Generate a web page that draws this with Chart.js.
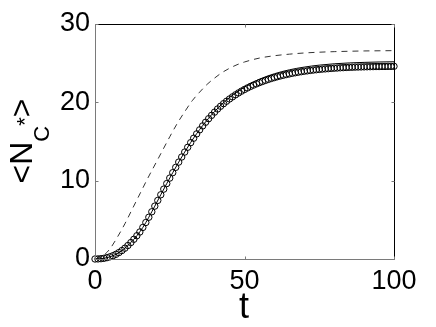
<!DOCTYPE html>
<html>
<head>
<meta charset="utf-8">
<script src="https://cdn.jsdelivr.net/npm/chart.js@4.4.1/dist/chart.umd.min.js"></script>
<style>
  html, body { margin: 0; padding: 0; background: #fff; }
  #chart { display: block; }
</style>
</head>
<body>
<canvas id="chart" width="436" height="327"></canvas>
<script>
// tick labels
const xTicks = [0, 50, 100];
const yTicks = [0, 10, 20, 30];

// circles, one per time unit t = 0..100
const nMarks = [
    0, 0.01, 0.04, 0.09, 0.17, 0.28, 0.42, 0.6, 0.82, 1.08,
    1.38, 1.72, 2.1, 2.52, 2.97, 3.45, 4.03, 4.66, 5.33, 6.03,
    6.75, 7.48, 8.2, 8.92, 9.63, 10.33, 11.02, 11.7, 12.37, 13.02,
    13.65, 14.26, 14.85, 15.42, 15.97, 16.49, 16.99, 17.46, 17.91, 18.34,
    18.75, 19.15, 19.5, 19.83, 20.14, 20.43, 20.7, 20.96, 21.2, 21.43,
    21.64, 21.84, 22.03, 22.2, 22.36, 22.52, 22.66, 22.8, 22.93, 23.05,
    23.16, 23.27, 23.37, 23.46, 23.55, 23.63, 23.71, 23.78, 23.85, 23.91,
    23.97, 24.02, 24.07, 24.12, 24.16, 24.2, 24.24, 24.27, 24.3, 24.33,
    24.36, 24.38, 24.41, 24.43, 24.45, 24.47, 24.48, 24.5, 24.51, 24.52,
    24.53, 24.54, 24.55, 24.56, 24.57, 24.57, 24.58, 24.58, 24.59, 24.59,
    24.6
];

// solid curve
const tSolid = [0, 2, 4, 6, 8, 10, 12, 14, 16, 18, 20, 22, 24, 26, 28, 30, 32, 34, 36, 38,
    40, 45, 50, 55, 60, 65, 70, 75, 80, 85, 90, 95, 100];
const nSolid = [0, 0.04, 0.17, 0.42, 0.82, 1.38, 2.1, 2.97, 4.03, 5.33, 6.75, 8.2, 9.63, 11.02, 12.37, 13.65, 14.87, 16.0, 17.03, 17.97,
    18.83, 20.62, 21.95, 22.95, 23.65, 24.15, 24.5, 24.75, 24.92, 25.03, 25.1, 25.15, 25.18];

// dashed curve
const tDashed = [0, 2.5, 5, 7.5, 10, 12.5, 15, 17.5, 20, 22.5, 25, 27.5, 30, 32.5, 35, 37.5, 40, 42.5, 45, 47.5,
    50, 55, 60, 65, 70, 75, 80, 85, 90, 95, 100];
const nDashed = [0, 0.35, 1.3, 2.8, 4.5, 6.4, 8.3, 10.2, 12.0, 13.8, 15.6, 17.3, 18.8, 20.2, 21.3, 22.3, 23.1, 23.8, 24.35, 24.8,
    25.15, 25.65, 25.95, 26.15, 26.3, 26.4, 26.47, 26.52, 26.56, 26.58, 26.6];

const FONT = "'Liberation Sans', Arial, Helvetica, sans-serif";

const pairs = (xs, ys) => ys.map((y, i) => ({ x: xs[i], y: y }));

// box, inward ticks and axis titles in MATLAB style
const frame = {
    id: "frame",
    afterDraw(chart) {
        const ctx = chart.ctx;
        const a = chart.chartArea;
        const sx = chart.scales.x;
        const sy = chart.scales.y;
        const L = Math.round(a.left) + 0.5;
        const R = Math.round(a.right) + 0.5;
        const T = Math.round(a.top) + 0.5;
        const B = Math.round(a.bottom) + 0.5;

        ctx.save();
        ctx.lineWidth = 1;

        ctx.strokeStyle = "#000";
        ctx.beginPath();
        ctx.moveTo(L, T); ctx.lineTo(R, T); ctx.lineTo(R, B);
        ctx.stroke();

        ctx.strokeStyle = "#7a7a7a";
        ctx.beginPath();
        ctx.moveTo(L, T); ctx.lineTo(L, B); ctx.lineTo(R, B);
        ctx.stroke();

        ctx.beginPath();
        xTicks.forEach(v => {
            const px = Math.round(sx.getPixelForValue(v)) + 0.5;
            ctx.moveTo(px, B); ctx.lineTo(px, B - 3);
            ctx.moveTo(px, T); ctx.lineTo(px, T + 3);
        });
        yTicks.forEach(v => {
            const py = Math.round(sy.getPixelForValue(v)) + 0.5;
            ctx.moveTo(L, py); ctx.lineTo(L + 3, py);
            ctx.moveTo(R, py); ctx.lineTo(R - 3, py);
        });
        ctx.stroke();

        ctx.fillStyle = "#000";

        // x title
        ctx.font = "36px " + FONT;
        ctx.textAlign = "center";
        ctx.textBaseline = "alphabetic";
        ctx.fillText("t", 244, 318);

        // y title  <N_C^*>
        const parts = [
            { s: "<", size: 32, dy: 0 },
            { s: "N", size: 32, dy: 0 },
            { s: "C", size: 22, dy: 17 },
            { s: "*", size: 22, dy: 0 },
            { s: ">", size: 32, dy: 0 }
        ];
        ctx.translate(32, 141);
        ctx.rotate(-Math.PI / 2);
        ctx.textAlign = "left";
        let total = 0;
        parts.forEach(p => {
            ctx.font = p.size + "px " + FONT;
            p.w = ctx.measureText(p.s).width;
            total += p.w;
        });
        let x = -total / 2;
        parts.forEach(p => {
            ctx.font = p.size + "px " + FONT;
            ctx.fillText(p.s, x, p.dy);
            x += p.w;
        });
        ctx.restore();
    }
};

new Chart(document.getElementById("chart"), {
    type: "line",
    data: {
        datasets: [
            {
                data: pairs(tSolid, nSolid),
                borderColor: "#000",
                borderWidth: 1,
                pointRadius: 0,
                cubicInterpolationMode: "monotone",
                fill: false
            },
            {
                data: pairs(tDashed, nDashed),
                borderColor: "#333",
                borderWidth: 1,
                borderDash: [6, 5],
                pointRadius: 0,
                cubicInterpolationMode: "monotone",
                fill: false
            },
            {
                data: nMarks.map((y, i) => ({ x: i, y: y })),
                showLine: false,
                pointStyle: "circle",
                pointRadius: 3.2,
                pointBorderWidth: 1,
                pointBorderColor: "#000",
                pointBackgroundColor: "rgba(0,0,0,0)",
                clip: false
            }
        ]
    },
    options: {
        responsive: false,
        animation: false,
        devicePixelRatio: 1,
        layout: { padding: { left: 0, right: 42, top: 24, bottom: 0 } },
        plugins: {
            legend: { display: false },
            tooltip: { enabled: false }
        },
        scales: {
            x: {
                type: "linear",
                min: 0,
                max: 100,
                afterBuildTicks: s => { s.ticks = xTicks.map(v => ({ value: v })); },
                afterFit: s => { s.height = 68; },
                grid: { display: false, drawTicks: false },
                border: { display: false },
                ticks: {
                    color: "#000",
                    padding: 6,
                    maxRotation: 0,
                    font: { family: FONT, size: 27 }
                }
            },
            y: {
                min: 0,
                max: 30,
                afterBuildTicks: s => { s.ticks = yTicks.map(v => ({ value: v })); },
                afterFit: s => { s.width = 95; },
                grid: { display: false, drawTicks: false },
                border: { display: false },
                ticks: {
                    color: "#000",
                    padding: 5,
                    font: { family: FONT, size: 27 }
                }
            }
        }
    },
    plugins: [frame]
});
</script>
</body>
</html>
